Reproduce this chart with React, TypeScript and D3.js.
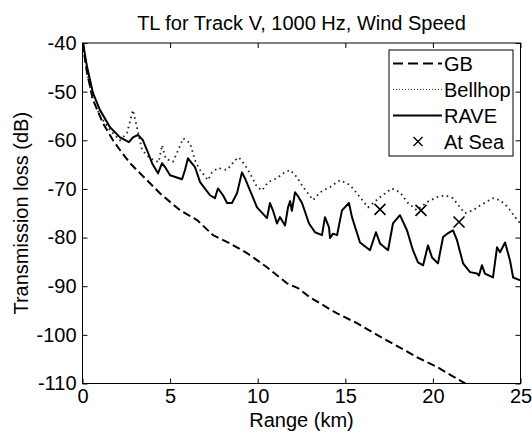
import React, { useEffect, useRef } from "react";
import * as d3 from "d3";

// ---- Data ----
const xTicks = [0, 5, 10, 15, 20, 25];
const yTicks = [-110, -100, -90, -80, -70, -60, -50, -40];

const gbRange = [0.03, 0.12, 0.26, 0.6, 1.17, 1.74, 2.14, 2.71, 3.68, 4.42, 5.57, 6.54, 7.45, 8.42, 9.39, 10.53, 11.67, 12.3, 12.99, 14.53, 15.67, 17.15, 18.12, 19.09, 20.23, 21.37, 22.0];
const gbTL = [-40, -42.8, -46.2, -51.7, -56.5, -60.0, -62.0, -64.7, -68.2, -70.9, -74.4, -76.4, -79.5, -81.2, -83.2, -86.1, -89.4, -90.4, -92.3, -95.6, -97.6, -100.7, -102.6, -104.6, -106.6, -109.0, -110.3];

const bellhopRange = [0.03, 0.26, 0.54, 1.0, 1.57, 2.14, 2.54, 2.88, 3.17, 3.4, 3.85, 4.35, 4.54, 4.75, 5.17, 5.75, 6.14, 6.42, 6.71, 7.16, 7.39, 7.73, 8.25, 8.7, 8.93, 9.27, 9.56, 9.96, 10.25, 10.59, 11.1, 11.45, 11.85, 12.24, 12.59, 12.87, 13.16, 13.56, 14.13, 14.7, 15.27, 15.84, 16.3, 16.98, 17.66, 18.12, 18.58, 19.09, 19.66, 20.23, 20.69, 21.15, 21.55, 21.83, 22.29, 22.69, 23.43, 23.83, 24.29, 24.69, 25];
const bellhopTL = [-40.5, -45.8, -51.2, -55.0, -57.9, -60.0, -58.5, -53.8, -58.3, -62.0, -63.7, -64.5, -61.0, -63.8, -64.4, -59.6, -60.6, -64.1, -66.1, -68.2, -66.6, -65.7, -66.1, -64.1, -63.5, -65.1, -66.8, -69.6, -70.3, -68.6, -67.8, -66.8, -66.1, -67.6, -69.6, -70.9, -72.3, -70.7, -69.6, -68.2, -69.2, -71.7, -73.8, -71.7, -69.9, -70.7, -72.9, -74.4, -72.7, -71.7, -71.3, -71.9, -73.8, -75.0, -74.4, -73.4, -71.9, -72.3, -73.8, -75.8, -77.1];

const raveRange = [0.03, 0.26, 0.6, 1.0, 1.57, 2.14, 2.65, 2.88, 3.17, 3.45, 3.68, 3.97, 4.31, 4.54, 4.71, 5.0, 5.68, 5.85, 6.02, 6.42, 6.71, 7.28, 7.56, 7.73, 8.02, 8.25, 8.53, 8.82, 9.1, 9.27, 9.56, 9.96, 10.53, 10.7, 10.87, 11.1, 11.27, 11.56, 11.73, 11.85, 11.95, 12.13, 12.3, 12.53, 12.93, 13.27, 13.67, 13.84, 14.07, 14.13, 14.3, 14.53, 14.81, 15.21, 15.38, 15.84, 16.41, 16.75, 16.98, 17.44, 17.72, 18.12, 18.52, 18.86, 19.15, 19.44, 19.72, 19.95, 20.29, 20.58, 20.86, 21.15, 21.38, 21.72, 22.12, 22.52, 22.63, 22.8, 22.97, 23.43, 23.66, 23.83, 24.12, 24.4, 24.58, 25];
const raveTL = [-40, -44.9, -50.3, -53.8, -57.3, -59.4, -60.4, -59.4, -58.9, -60.0, -62.0, -64.7, -66.8, -64.7, -65.5, -67.2, -68.0, -66.1, -63.7, -65.5, -68.6, -71.3, -71.9, -69.9, -71.3, -72.9, -72.9, -70.9, -66.6, -67.8, -70.3, -73.8, -76.0, -72.9, -74.4, -77.1, -75.8, -77.5, -73.8, -72.5, -74.5, -70.7, -71.5, -72.9, -77.1, -78.9, -79.5, -75.8, -77.9, -80.1, -79.2, -79.5, -74.4, -72.9, -75.8, -81.0, -82.6, -78.9, -81.2, -82.6, -77.1, -75.4, -78.5, -82.6, -85.1, -85.7, -81.6, -84.1, -85.3, -79.9, -79.1, -78.5, -80.6, -85.3, -87.1, -87.4, -87.8, -85.7, -87.4, -88.2, -82.0, -83.0, -81.0, -84.7, -88.2, -88.8];

const seaRange = [16.98, 19.32, 21.49];
const seaTL = [-74.2, -74.4, -76.8];

const legendLabels = ["GB", "Bellhop", "RAVE", "At Sea"];

const W = 532;
const H = 436;
const M = { left: 82.5, right: 520.5, top: 43, bottom: 383.5 };
const FONT = "'Liberation Sans', Arial, Helvetica, sans-serif";
const FS = 20;

export default function App() {
  const gRef = useRef<SVGGElement>(null);

  const x = d3.scaleLinear().domain([0, 25]).range([M.left, M.right]);
  const y = d3.scaleLinear().domain([-110, -40]).range([M.bottom, M.top]);

  const line = d3
    .line<[number, number]>()
    .x((d) => x(d[0]))
    .y((d) => y(d[1]));

  const zip = (a: number[], b: number[]) => a.map((v, i) => [v, b[i]] as [number, number]);

  useEffect(() => {
    const g = d3.select(gRef.current);
    g.selectAll("*").remove();

    const styleAxis = (sel: any) => {
      sel.select(".domain").remove();
      sel.selectAll(".tick line").attr("stroke", "#000").attr("stroke-width", 1);
      sel
        .selectAll(".tick text")
        .attr("fill", "#000")
        .style("font-family", FONT)
        .style("font-size", FS + "px");
    };

    g.append("g")
      .attr("transform", `translate(0,${M.bottom})`)
      .call(d3.axisBottom(x).tickValues(xTicks).tickSize(-5).tickSizeOuter(0).tickPadding(5).tickFormat(d3.format("d")))
      .call(styleAxis);
    g.append("g")
      .attr("transform", `translate(0,${M.top})`)
      .call(d3.axisTop(x).tickValues(xTicks).tickSize(-5).tickSizeOuter(0).tickFormat(() => ""))
      .call(styleAxis);
    g.append("g")
      .attr("transform", `translate(${M.left},0)`)
      .call(d3.axisLeft(y).tickValues(yTicks).tickSize(-5).tickSizeOuter(0).tickPadding(6).tickFormat(d3.format("d")))
      .call(styleAxis);
    g.append("g")
      .attr("transform", `translate(${M.right},0)`)
      .call(d3.axisRight(y).tickValues(yTicks).tickSize(-5).tickSizeOuter(0).tickFormat(() => ""))
      .call(styleAxis);
    g.selectAll(".tick text").attr("font-family", null);
    g.selectAll("text").style("font-family", FONT);
    // minus sign as hyphen
    g.selectAll(".tick text").text(function (this: any) {
      return (d3.select(this).text() || "").replace("−", "-");
    });
  }, []);

  const lx0 = 393;
  const lx1 = 442;
  const rows = [63.5, 89.5, 115.5, 141.5];

  return (
    <div style={{ position: "absolute", left: 0, top: 0 }}>
      <svg width={W} height={H} style={{ display: "block", background: "#fff" }}>
        <defs>
          <clipPath id="plotclip">
            <rect x={M.left} y={M.top} width={M.right - M.left} height={M.bottom - M.top} />
          </clipPath>
        </defs>
        <rect x={0} y={0} width={W} height={H} fill="#fff" />
        <g clipPath="url(#plotclip)" fill="none" strokeLinejoin="round">
          <path d={line(zip(gbRange, gbTL)) || ""} stroke="#000" strokeWidth={2} strokeDasharray="8,4" />
          <path d={line(zip(bellhopRange, bellhopTL)) || ""} stroke="#222" strokeWidth={1.8} strokeDasharray="1.6,3.6" />
          <path d={line(zip(raveRange, raveTL)) || ""} stroke="#000" strokeWidth={2} />
          {seaRange.map((r, i) => {
            const cx = x(r);
            const cy = y(seaTL[i]);
            const s = 5.5;
            return (
              <path
                key={i}
                d={`M${cx - s},${cy - s}L${cx + s},${cy + s}M${cx - s},${cy + s}L${cx + s},${cy - s}`}
                stroke="#000"
                strokeWidth={1.6}
              />
            );
          })}
        </g>
        <rect
          x={M.left}
          y={M.top}
          width={M.right - M.left}
          height={M.bottom - M.top}
          fill="none"
          stroke="#000"
          strokeWidth={1}
        />
        <g ref={gRef} />
        {/* Legend */}
        <g>
          <rect x={389} y={50} width={124} height={106} fill="#fff" stroke="#000" strokeWidth={1} />
          <line x1={lx0} x2={lx1} y1={rows[0]} y2={rows[0]} stroke="#000" strokeWidth={2} strokeDasharray="10,5" />
          <line x1={lx0} x2={lx1} y1={rows[1]} y2={rows[1]} stroke="#333" strokeWidth={1} strokeDasharray="1,2" />
          <line x1={lx0} x2={lx1} y1={rows[2]} y2={rows[2]} stroke="#000" strokeWidth={2} />
          <path
            d={`M${418 - 4.5},${rows[3] - 4.5}L${418 + 4.5},${rows[3] + 4.5}M${418 - 4.5},${rows[3] + 4.5}L${418 + 4.5},${rows[3] - 4.5}`}
            stroke="#000"
            strokeWidth={1.4}
          />
          {legendLabels.map((t, i) => (
            <text
              key={t}
              x={444}
              y={rows[i]}
              dy="0.36em"
              fontFamily={FONT}
              fontSize={FS}
              fill="#000"
            >
              {t}
            </text>
          ))}
        </g>
        <text x={(M.left + M.right) / 2} y={30} textAnchor="middle" fontFamily={FONT} fontSize={FS} fill="#000">
          TL for Track V, 1000 Hz, Wind Speed
        </text>
        <text x={(M.left + M.right) / 2} y={427} textAnchor="middle" fontFamily={FONT} fontSize={FS} fill="#000">
          Range (km)
        </text>
        <text
          transform={`translate(28,${(M.top + M.bottom) / 2}) rotate(-90)`}
          textAnchor="middle"
          fontFamily={FONT}
          fontSize={FS}
          fill="#000"
        >
          Transmission loss (dB)
        </text>
      </svg>
    </div>
  );
}
